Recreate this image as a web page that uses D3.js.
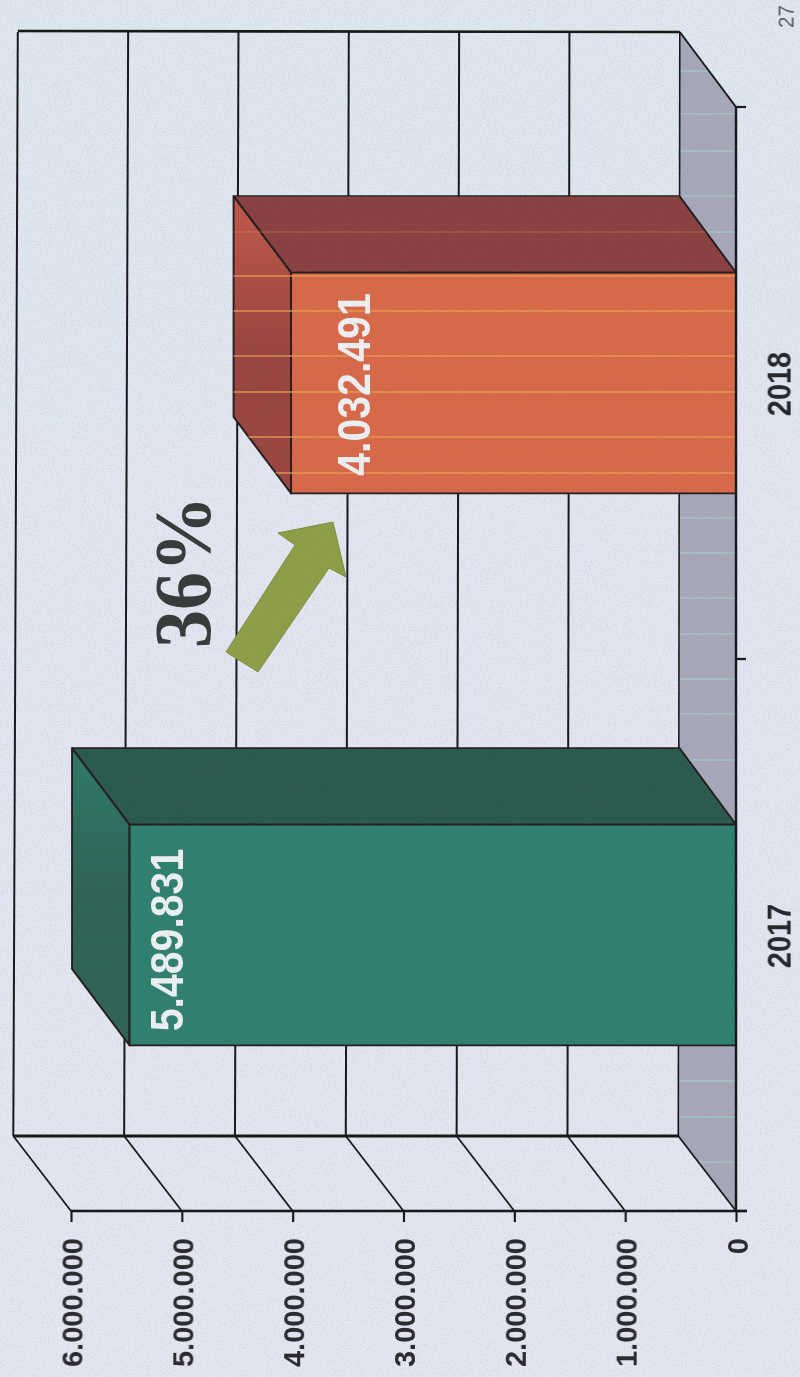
<!DOCTYPE html>
<html><head><meta charset="utf-8">
<script src="https://cdn.jsdelivr.net/npm/d3@7/dist/d3.min.js"></script>
<style>html,body{margin:0;padding:0;background:#e3e7f2}svg{display:block}</style>
</head><body><svg id="c" width="800" height="1377"></svg>
<script>
// --- data
const years = ["2018", "2017"];
const values = [4032491, 5489831];
const valueTicks = [0, 1000000, 2000000, 3000000, 4000000, 5000000, 6000000];
const growthLabel = "36%";
const pageNumber = "27";

// --- layout
const W = 800, H = 1377;
const depthX = -57.7, depthY = -75, scanSkew = 3;
const barDepthX = -57.5, barDepthY = -76.5, barInset = 2;
const labelBaseline = { "2017": 183, "2018": 370 };
const labelShift = { "2017": 5, "2018": 1.5 };
const arrowShape = [[226,652],[258,672],[329,568],[346,577],[333,522],[278,533],[295,545]];
const scanRows = [71,114,151,196,232,276,311,356,392,437,473,518,553,598,634,679,714,760,1081,1117,1162];
const colors = {
  "2017": { front: "#2f8170", top: "#2c5a50", sideA: "#2f7465", sideB: "#2e6356" },
  "2018": { front: "#d9694a", top: "#8a4142", sideA: "#bb5547", sideB: "#9a4540" }
};

const svg = d3.select("#c");
const defs = svg.append("defs");

const grad = defs.append("linearGradient").attr("id","bg").attr("x1",0).attr("x2",0).attr("y1",0).attr("y2",1);
grad.append("stop").attr("offset",0).attr("stop-color","#e0e8f2");
grad.append("stop").attr("offset",.45).attr("stop-color","#e3e7f3");
grad.append("stop").attr("offset",1).attr("stop-color","#e5e7f2");

const noise = defs.append("filter").attr("id","grain").attr("x",0).attr("y",0).attr("width","100%").attr("height","100%");
noise.append("feTurbulence").attr("type","fractalNoise").attr("baseFrequency",.7).attr("numOctaves",2).attr("seed",4);
noise.append("feColorMatrix").attr("type","matrix").attr("values","0 0 0 0 .2  0 0 0 0 .2  0 0 0 0 .2  0 0 0 1.1 -.46");
defs.append("filter").attr("id","soft").append("feGaussianBlur").attr("stdDeviation",.4);

// --- scales: the chart is rotated a quarter turn, value runs right-to-left
const x = d3.scaleLinear().domain([0, 6000000]).range([736, 71]);
const y = d3.scaleBand().domain(years).range([107, 1211]).paddingInner(.6).paddingOuter(.3);
const fmt = d3.formatLocale({ decimal: ",", thousands: ".", grouping: [3], currency: ["", ""] }).format(",d");
const line = d3.line();

svg.append("rect").attr("width",W).attr("height",H).attr("fill","url(#bg)");
const g = svg.append("g").attr("filter","url(#soft)");

const [yTop, yBot] = y.range();
const backTop = yTop + depthY, backBot = yBot + depthY;

// floor
const floorPts = [[x(0)+depthX+scanSkew/2, backTop],[x(0), yTop],[x(0), yBot],[x(0)+depthX, backBot]];
g.append("path").attr("d", line(floorPts)+"Z").attr("fill","#a8a8bb");
defs.append("clipPath").attr("id","floorClip").append("path").attr("d", line(floorPts)+"Z");
g.append("g").attr("clip-path","url(#floorClip)").selectAll("line").data(scanRows).join("line")
  .attr("x1",0).attr("x2",W).attr("y1",d=>d).attr("y2",d=>d)
  .attr("stroke","#a3c4c6").attr("stroke-width",2).attr("opacity",.85);

// back wall gridlines
g.append("g").selectAll("line").data(valueTicks).join("line")
  .attr("x1",d=>x(d)+depthX+scanSkew*(d/6000000)+1.5).attr("y1",backTop)
  .attr("x2",d=>x(d)+depthX).attr("y2",backBot)
  .attr("stroke","#17191b").attr("stroke-width",d=>d===0?1.6:2);
// wall-floor boundaries
g.append("path").attr("d", line([[x(6000000)+depthX+4.5,backTop-1],[x(0)+depthX+1.5,backTop]]))
  .attr("stroke","#121314").attr("stroke-width",2.6).attr("fill","none");
g.append("path").attr("d", line([[x(6000000)+depthX,backBot],[x(0)+depthX,backBot]]))
  .attr("stroke","#121314").attr("stroke-width",2.8).attr("fill","none");
// receding lines to the front axis
g.append("g").selectAll("line").data(valueTicks).join("line")
  .attr("x1",d=>x(d)+depthX).attr("y1",backBot).attr("x2",d=>x(d)).attr("y2",yBot)
  .attr("stroke","#17191b").attr("stroke-width",1.8);
g.append("path").attr("d", line([[x(0)+depthX+1.5,backTop],[x(0),yTop]]))
  .attr("stroke","#17191b").attr("stroke-width",2).attr("fill","none");

// bars
const bars = years.map((yr,i)=>({year:yr, value:values[i]}));
const barG = g.append("g").selectAll("g").data(bars).join("g");
barG.each(function(d){
  const b = d3.select(this), c = colors[d.year];
  const xTop = x(d.value) + barInset, xBase = x(0);
  const y0 = y(d.year), y1 = y0 + y.bandwidth();
  const dx = barDepthX, dy = barDepthY;
  const sg = defs.append("linearGradient").attr("id","side"+d.year).attr("x1",0).attr("x2",0).attr("y1",0).attr("y2",1);
  sg.append("stop").attr("offset",.1).attr("stop-color",c.sideA);
  sg.append("stop").attr("offset",.5).attr("stop-color",c.sideB);
  const outline = {stroke:"#241c1b","stroke-width":1.9,"stroke-linejoin":"round"};
  const topPts = [[xTop,y0],[xBase,y0],[xBase+dx+1,y0+dy],[xTop+dx,y0+dy]];
  const sidePts = [[xTop,y0],[xTop,y1],[xTop+dx,y1+dy],[xTop+dx,y0+dy]];
  const top = b.append("path").attr("d", line(topPts)+"Z").attr("fill",c.top);
  const side = b.append("path").attr("d", line(sidePts)+"Z").attr("fill",`url(#side${d.year})`);
  const front = b.append("rect").attr("x",xTop).attr("y",y0).attr("width",xBase-xTop).attr("height",y1-y0).attr("fill",c.front);
  [top,side,front].forEach(s=>Object.entries(outline).forEach(([k,v])=>s.attr(k,v)));
  if (d.year === "2018") {
    const id = "barClip"+d.year;
    const cp = defs.append("clipPath").attr("id",id);
    cp.append("rect").attr("x",xTop).attr("y",y0).attr("width",xBase-xTop).attr("height",y1-y0);
    cp.append("path").attr("d", line(sidePts)+"Z");
    cp.append("path").attr("d", line(topPts)+"Z");
    b.append("g").attr("clip-path",`url(#${id})`).selectAll("line").data(scanRows).join("line")
      .attr("x1",0).attr("x2",W).attr("y1",r=>r).attr("y2",r=>r)
      .attr("stroke","#e8a050").attr("stroke-width",1.6)
      .attr("opacity",r=>r<y0?.25:.85);
  }
});

// value axis (front edge)
const valueAxis = d3.axisBottom(x).tickValues(valueTicks).tickSize(11).tickPadding(0).tickFormat(fmt);
const ax = g.append("g").attr("transform",`translate(0,${yBot})`).call(valueAxis);
ax.select(".domain").attr("stroke","#121314").attr("stroke-width",2.6).attr("d",`M${x(6000000)},0H${x(0)+11}`);
ax.selectAll(".tick line").attr("stroke","#121314").attr("stroke-width",2.1);
ax.selectAll(".tick text")
  .attr("transform","translate(11,27) rotate(-90)").attr("x",0).attr("y",0).attr("dy",0)
  .attr("text-anchor","end")
  .attr("font-family","'Liberation Sans',Arial,sans-serif").attr("font-weight","bold").attr("font-size",29)
  .attr("fill","#2a2c2e");

// category axis: right edge with ticks at band boundaries
const catAxis = d3.axisRight(y).tickSize(0).tickPadding(0);
const cx = g.append("g").attr("transform",`translate(${x(0)},0)`).call(catAxis);
cx.select(".domain").attr("stroke","#121314").attr("stroke-width",2.4).attr("d",`M0,${yTop}V${yBot}`);
cx.selectAll(".tick text")
  .attr("transform","translate(55,1) rotate(-90) scale(1,1.12)").attr("x",0).attr("y",0).attr("dy",0)
  .attr("text-anchor","middle")
  .attr("font-family","'Liberation Sans',Arial,sans-serif").attr("font-weight","bold").attr("font-size",29)
  .attr("fill","#26282a");
const boundaries = [yTop, yTop + y.step(), yBot];
g.append("g").selectAll("line").data(boundaries).join("line")
  .attr("x1",x(0)).attr("x2",x(0)+10).attr("y1",d=>d).attr("y2",d=>d)
  .attr("stroke","#121314").attr("stroke-width",2.2);

// value labels on bars
g.append("g").selectAll("text").data(bars).join("text")
  .attr("transform",d=>`translate(${labelBaseline[d.year]},${y(d.year)+y.bandwidth()/2+labelShift[d.year]}) rotate(-90) scale(1,1.14)`)
  .attr("text-anchor","middle")
  .attr("font-family","'Liberation Sans',Arial,sans-serif").attr("font-size",41).attr("font-weight","bold")
  .attr("fill","#eef2f5").text(d=>fmt(d.value));

// growth arrow and label
g.append("path").attr("d", line(arrowShape)+"Z").attr("fill","#8f9f46").attr("stroke","#7f8f3e").attr("stroke-width",1);
g.append("text").attr("transform","translate(210,648) rotate(-90) scale(1,1.06)")
  .attr("font-family","'Liberation Serif','Times New Roman',serif").attr("font-weight","bold").attr("font-size",76)
  .attr("fill","#363a38").text(growthLabel);

// page number
g.append("text").attr("transform","translate(794,28) rotate(-90) scale(1,1.12)")
  .attr("font-family","'Liberation Sans',Arial,sans-serif").attr("font-size",20.5)
  .attr("fill","#5a5c60").text(pageNumber);

// paper grain
svg.append("rect").attr("width",W).attr("height",H).attr("filter","url(#grain)").attr("opacity",.3);
</script></body></html>
